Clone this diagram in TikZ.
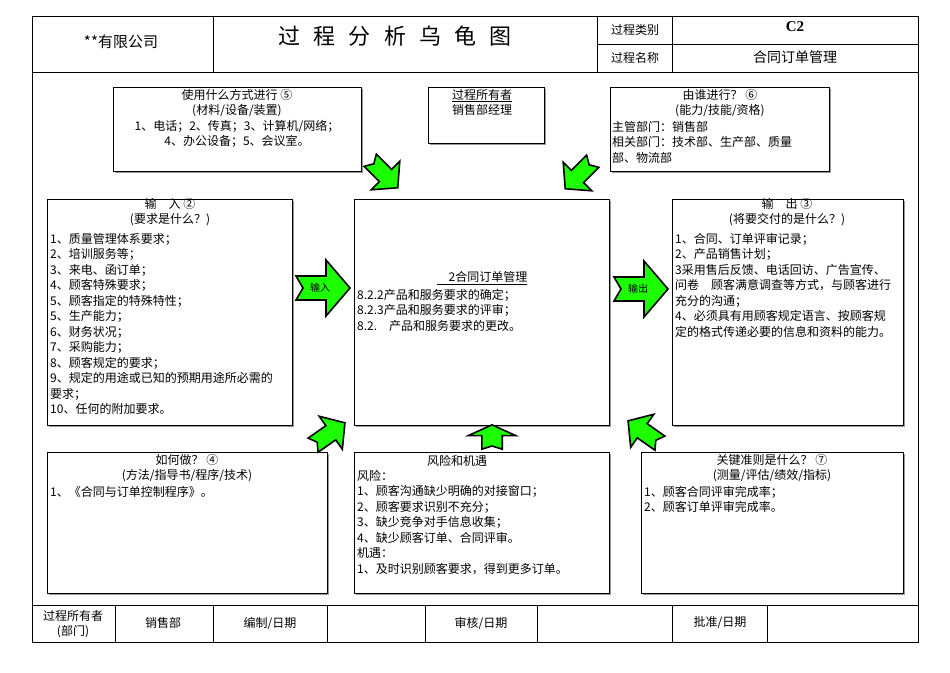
\documentclass[tikz,border=0pt]{standalone}
\usepackage{fontspec}
\setmainfont{Noto Sans CJK SC}
\newfontfamily\serifc{Liberation Serif}
\usetikzlibrary{shadows}
\begin{document}
\begin{tikzpicture}[x=1pt,y=-1pt,
  box/.style={draw,line width=0.9pt,fill=white,anchor=north west,inner sep=0,
    drop shadow={shadow xshift=1.5pt,shadow yshift=-1.5pt,fill=gray!80,opacity=1}},
  txt/.style={inner sep=0,font=\fontsize{12}{15.5}\selectfont},
  body/.style={txt,anchor=north west,align=left},
  ttl/.style={txt,anchor=center},
  grid/.style={line width=0.8pt},
  pics/garrow/.style={code={
    \draw[fill=green!85!lime,line width=1.6pt,line join=miter]
      (-27,-12)--(3,-12)--(3,-28)--(27,0)--(3,28)--(3,12)--(-27,12)--(-20,0)--cycle;}}]
\useasboundingbox (0,0) rectangle (950,672);
\fill[white] (0,0) rectangle (950,672);
% frame
\node[draw,grid,anchor=north west,minimum width=886,minimum height=626,inner sep=0] (frame) at (32,16) {};
\draw[grid] (32,72)--(918,72) (213,16)--(213,72) (597,16)--(597,72) (672,16)--(672,72) (597,44)--(918,44);
\draw[grid] (32,605)--(918,605);
\foreach \x in {115,213,327,425,537,672,767} \draw[grid] (\x,605)--(\x,642);
\node[ttl,font=\fontsize{15}{17}\selectfont] (co) at (121,42) {**有限公司};
\node[ttl,font=\fontsize{22}{24}\selectfont] (title) at (395,36) {过\hspace{0.6em}程\hspace{0.6em}分\hspace{0.6em}析\hspace{0.6em}乌\hspace{0.6em}龟\hspace{0.6em}图};
\node[ttl] (lb1) at (635,30) {过程类别};
\node[ttl] (lb2) at (635,58) {过程名称};
\node[ttl,font=\serifc\bfseries\fontsize{15}{16}\selectfont] (c2) at (795,27) {C2};
\node[ttl,font=\fontsize{14}{15}\selectfont] (pn) at (795,57) {合同订单管理};
% bottom row
\node[ttl,align=center] (own) at (73,624) {过程所有者\\(部门)};
\node[ttl] (dep) at (163,623) {销售部};
\node[ttl] (bz) at (270,623) {编制/日期};
\node[ttl] (sh) at (481,623) {审核/日期};
\node[ttl] (pz) at (720,623) {批准/日期};
% boxes
\node[box,minimum width=248,minimum height=84] (use) at (113,87) {};
\node[box,minimum width=116,minimum height=56] (po) at (428,87) {};
\node[box,minimum width=219,minimum height=84] (who) at (610,87) {};
\node[box,minimum width=245,minimum height=226] (in) at (47,199) {};
\node[box,minimum width=255,minimum height=226] (ctr) at (354,199) {};
\node[box,minimum width=231,minimum height=226] (out) at (672,199) {};
\node[box,minimum width=280,minimum height=141] (how) at (47,452) {};
\node[box,minimum width=255,minimum height=141] (risk) at (354,452) {};
\node[box,minimum width=262,minimum height=141] (key) at (641,452) {};
% use
\node[ttl,align=center,anchor=north] (uset) at (237,89) {使用什么方式进行 ⑤\\(材料/设备/装置)\\1、电话；2、传真；3、计算机/网络；\\4、办公设备；5、会议室。};
\node[ttl,align=center,anchor=north] (pot) at (482,89) {\underline{过程所有者}\\销售部经理};
\node[ttl,align=center,anchor=north] (whot) at (720,89) {由谁进行？ ⑥\\(能力/技能/资格)};
\node[body] (whob) at (612,121) {主管部门：销售部\\相关部门：技术部、生产部、质量\\部、物流部};
% input
\node[ttl,align=center,anchor=north] (int) at (170,198) {输\quad 入 ②\\(要求是什么？)};
\node[body] (inb) at (50,233) {1、质量管理体系要求；\\2、培训服务等；\\3、来电、函订单；\\4、顾客特殊要求；\\5、顾客指定的特殊特性；\\5、生产能力；\\6、财务状况；\\7、采购能力；\\8、顾客规定的要求；\\9、规定的用途或已知的预期用途所必需的\\要求；\\10、任何的附加要求。};
% center
\node[ttl] (ctt) at (482,278) {\underline{\quad 2合同订单管理}};
\node[body] (ctb) at (357,289) {8.2.2产品和服务要求的确定；\\8.2.3产品和服务要求的评审；\\8.2.\quad 产品和服务要求的更改。};
% output
\node[ttl,align=center,anchor=north] (outt) at (787,198) {输\quad 出 ③\\(将要交付的是什么？)};
\node[body] (outb) at (675,233) {1、合同、订单评审记录；\\2、产品销售计划；\\3采用售后反馈、电话回访、广告宣传、\\问卷\quad 顾客满意调查等方式，与顾客进行\\充分的沟通；\\4、必须具有用顾客规定语言、按顾客规\\定的格式传递必要的信息和资料的能力。};
% how
\node[ttl,align=center,anchor=north] (howt) at (187,454) {如何做？ ④\\(方法/指导书/程序/技术)};
\node[body] (howb) at (50,486) {1、《合同与订单控制程序》。};
% risk
\node[ttl] (riskt) at (457,461) {风险和机遇};
\node[body] (riskb) at (357,470) {风险：\\1、顾客沟通缺少明确的对接窗口；\\2、顾客要求识别不充分；\\3、缺少竞争对手信息收集；\\4、缺少顾客订单、合同评审。\\机遇：\\1、及时识别顾客要求，得到更多订单。};
% key
\node[ttl,align=center,anchor=north] (keyt) at (772,454) {关键准则是什么？ ⑦\\(测量/评估/绩效/指标)};
\node[body] (keyb) at (644,486) {1、顾客合同评审完成率；\\2、顾客订单评审完成率。};
% arrows
\pic at (323,288) {garrow};
\node[ttl,font=\fontsize{10}{12}\selectfont] (inl) at (320,288) {输入};
\pic at (641,289) {garrow};
\node[ttl,font=\fontsize{10}{12}\selectfont] (outl) at (638,289) {输出};
\pic[rotate=-45,scale=0.72] at (384,174) {garrow};
\pic[rotate=-135,scale=0.72] at (579,175) {garrow};
\pic[rotate=35,scale=0.72] at (329,434) {garrow};
\pic[rotate=90,xscale=0.45,yscale=0.85] at (492,437) {garrow};
\pic[rotate=145,scale=0.72] at (644,432) {garrow};
\end{tikzpicture}
\end{document}
